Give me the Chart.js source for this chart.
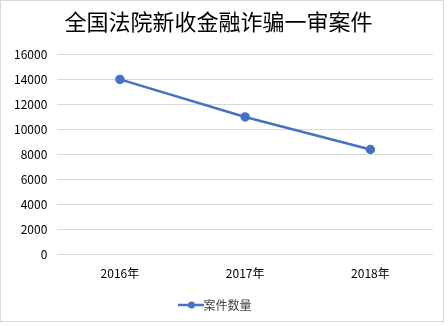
<!DOCTYPE html>
<html lang="zh">
<head>
  <meta charset="UTF-8">
  <title>全国法院新收金融诈骗一审案件</title>
  <script src="https://cdn.jsdelivr.net/npm/chart.js"></script>
  <style>
    body {
      margin: 0;
      padding: 0;
      background: #fff;
    }
    .box {
      position: absolute;
      left: 0;
      top: 0;
      width: 442px;
      height: 320px;
      border: 1px solid #d9d9d9;
      background: #fff;
    }
  </style>
</head>
<body>

<div class="box">
  <canvas id="chart" width="442" height="320"></canvas>
</div>

<script>
  const years = ['2016年', '2017年', '2018年'];
  const caseCounts = [14000, 11000, 8400];
  const yTicks = [0, 2000, 4000, 6000, 8000, 10000, 12000, 14000, 16000];

  const blue = '#4472C4';
  const font = "'Noto Sans CJK SC', 'Noto Sans', sans-serif";

  // 图例：线 + 圆点
  const legendIcon = document.createElement('canvas');
  legendIcon.width = 26;
  legendIcon.height = 10;
  const ic = legendIcon.getContext('2d');
  ic.strokeStyle = blue;
  ic.lineWidth = 2.5;
  ic.beginPath();
  ic.moveTo(0, 5);
  ic.lineTo(26, 5);
  ic.stroke();
  ic.fillStyle = blue;
  ic.beginPath();
  ic.arc(13, 5, 3.5, 0, Math.PI * 2);
  ic.fill();

  new Chart(document.getElementById('chart'), {
    type: 'line',
    data: {
      labels: years,
      datasets: [{
        label: '案件数量',
        data: caseCounts,
        borderColor: blue,
        backgroundColor: blue,
        borderWidth: 2.5,
        pointRadius: 3.5,
        pointHoverRadius: 3.5,
        tension: 0
      }]
    },
    options: {
      responsive: false,
      animation: false,
      layout: {
        padding: { left: 3, right: 10, top: 2, bottom: 0 }
      },
      plugins: {
        title: {
          display: true,
          text: '全国法院新收金融诈骗一审案件',
          color: '#000',
          font: { family: font, size: 22, weight: 'normal' },
          padding: { top: 5, bottom: 20 }
        },
        legend: {
          position: 'bottom',
          labels: {
            usePointStyle: true,
            pointStyle: legendIcon,
            color: '#404040',
            font: { family: font, size: 12 },
            padding: 14
          }
        },
        tooltip: { enabled: false }
      },
      scales: {
        x: {
          offset: true,
          grid: { display: false },
          border: { display: false },
          ticks: {
            color: '#000',
            font: { family: font, size: 12 },
            padding: 4
          }
        },
        y: {
          min: 0,
          max: 16000,
          afterBuildTicks: axis => {
            axis.ticks = yTicks.map(v => ({ value: v }));
          },
          grid: { color: '#d9d9d9', lineWidth: 1, drawTicks: false },
          border: { display: false },
          ticks: {
            color: '#000',
            font: { family: font, size: 12 },
            padding: 10,
            callback: v => String(v)
          }
        }
      }
    }
  });
</script>

</body>
</html>
